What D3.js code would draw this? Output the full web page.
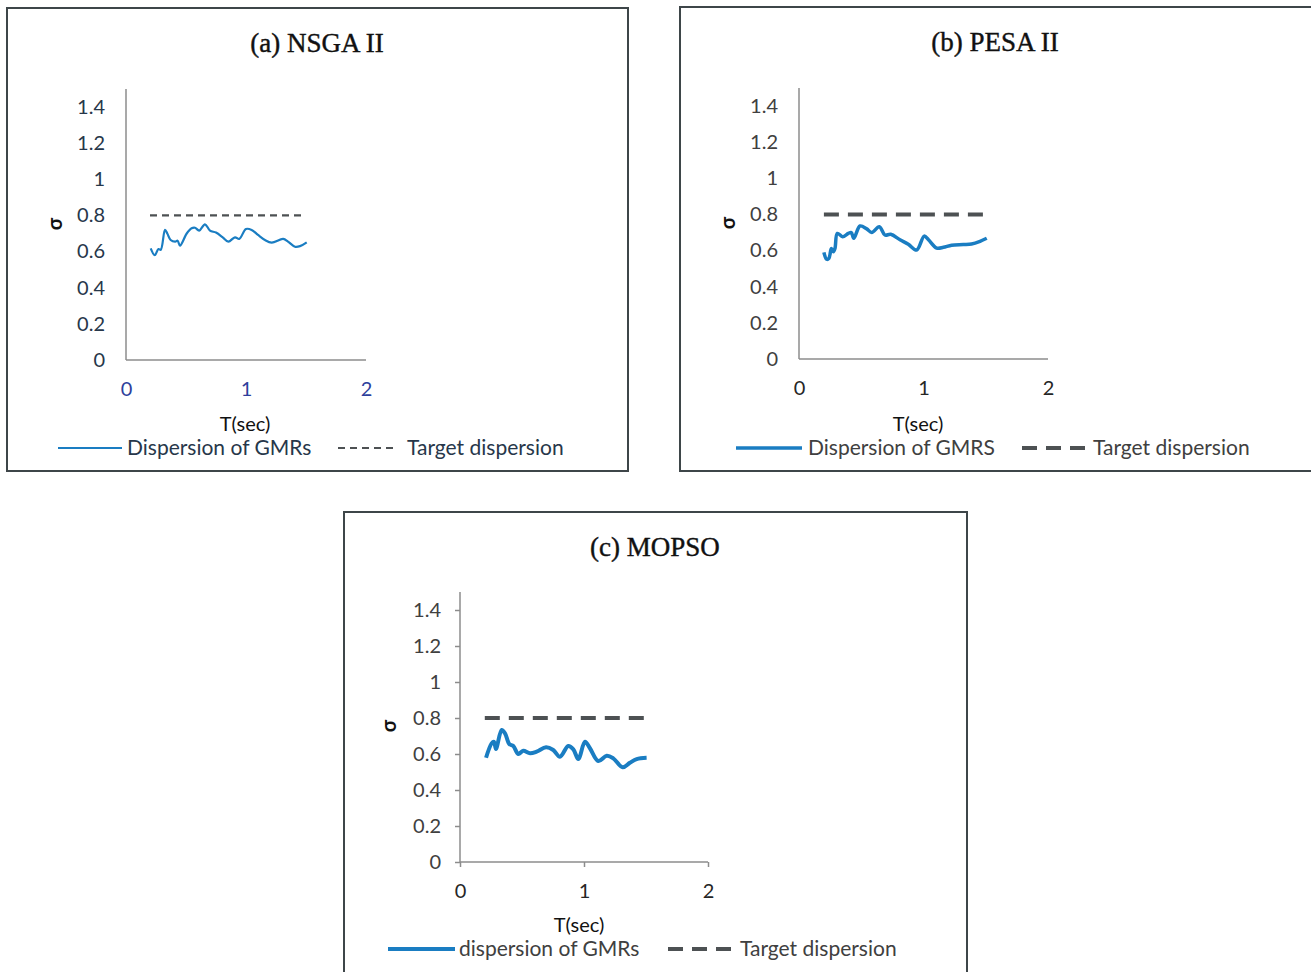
<!DOCTYPE html>
<meta charset="utf-8">
<head>
	<title>Dispersion of GMRs</title>
</head>

<style>
body{
	margin: 0;
	background: #fff;
}
svg{
	display: block;
}
.title{
	font-family: "Liberation Serif", "Times New Roman", serif;
	font-size: 27px;
	fill: #111;
	stroke: #111;
	stroke-width: 0.4px;
}
.tick text, .lbl{
	font-family: Lato, "Open Sans", sans-serif;
}
</style>

<body>
<svg id="chart" width="1311" height="972"></svg>

<script src="https://cdnjs.cloudflare.com/ajax/libs/d3/7.8.5/d3.min.js"></script>
<script>

// tick labels
var yTicks = [0, 0.2, 0.4, 0.6, 0.8, 1, 1.2, 1.4];
var xTicks = [0, 1, 2];

// target dispersion (same for all three)
var target_T = [0.2, 1.5];
var target_sigma = [0.8, 0.8];

// (a) NSGA II
var nsga_T = [0.206, 0.24, 0.27, 0.29, 0.325, 0.344, 0.372, 0.41, 0.43, 0.45, 0.506, 0.547, 0.575, 0.61, 0.658, 0.70, 0.75, 0.806, 0.853, 0.908, 0.944, 1.0, 1.047, 1.10, 1.158, 1.214, 1.31, 1.35, 1.408, 1.45, 1.506];
var nsga_sigma = [0.618, 0.58, 0.614, 0.61, 0.72, 0.70, 0.664, 0.655, 0.66, 0.633, 0.70, 0.729, 0.732, 0.716, 0.751, 0.716, 0.705, 0.679, 0.655, 0.679, 0.67, 0.725, 0.72, 0.692, 0.664, 0.65, 0.67, 0.655, 0.627, 0.63, 0.651];

// (b) PESA II
var pesa_T = [0.2, 0.222, 0.24, 0.26, 0.276, 0.289, 0.308, 0.35, 0.396, 0.42, 0.44, 0.49, 0.544, 0.584, 0.645, 0.69, 0.737, 0.811, 0.878, 0.945, 1.006, 1.04, 1.106, 1.16, 1.226, 1.32, 1.386, 1.454, 1.508];
var pesa_sigma = [0.59, 0.552, 0.557, 0.612, 0.594, 0.612, 0.695, 0.677, 0.695, 0.70, 0.668, 0.736, 0.72, 0.70, 0.732, 0.686, 0.69, 0.66, 0.635, 0.603, 0.68, 0.66, 0.614, 0.618, 0.63, 0.633, 0.636, 0.651, 0.668];

// (c) MOPSO
var mopso_T = [0.21, 0.255, 0.274, 0.29, 0.336, 0.363, 0.398, 0.43, 0.47, 0.51, 0.565, 0.618, 0.694, 0.752, 0.806, 0.873, 0.914, 0.954, 1.008, 1.048, 1.115, 1.183, 1.236, 1.312, 1.37, 1.425, 1.505];
var mopso_sigma = [0.579, 0.659, 0.668, 0.628, 0.733, 0.715, 0.655, 0.644, 0.60, 0.618, 0.604, 0.613, 0.637, 0.622, 0.585, 0.644, 0.626, 0.572, 0.668, 0.632, 0.561, 0.59, 0.576, 0.526, 0.551, 0.572, 0.579];

var panels = [
	{title: "(a) NSGA II", T: nsga_T, s: nsga_sigma, seriesName: "Dispersion of GMRs",
	 box: [7, 8, 621, 463], titleX: 317, ox: 126, oy: 360, w: 240, h: 253, lineW: 2.2, dashW: 2.2, dash: "7,5",
	 ticks: false, yCol: "#27374a", xCol: "#2e3f9c", legCol: "#27374a", tY: 71, legY: 88,
	 leg: [58, 122, 127, 338, 398, 407]},
	{title: "(b) PESA II", T: pesa_T, s: pesa_sigma, seriesName: "Dispersion of GMRS",
	 box: [680, 7, 640, 464], titleX: 995, ox: 799, oy: 359, w: 249, h: 253, lineW: 3.5, dashW: 4, dash: "15,9",
	 ticks: false, yCol: "#404040", xCol: "#262626", legCol: "#404040", tY: 72, legY: 89,
	 leg: [736, 802, 808, 1022, 1085, 1093]},
	{title: "(c) MOPSO", T: mopso_T, s: mopso_sigma, seriesName: "dispersion of GMRs",
	 box: [344, 512, 623, 470], titleX: 655, ox: 460, oy: 862, w: 248, h: 252, lineW: 4, dashW: 4, dash: "15,9",
	 ticks: true, yCol: "#404040", xCol: "#262626", legCol: "#404040", tY: 70, legY: 87,
	 leg: [388, 455, 459, 668, 732, 740]}
];

var svg = d3.select("#chart");

panels.forEach(function(p){
	var g = svg.append("g");

	g.append("rect")
		.attr("x", p.box[0]).attr("y", p.box[1])
		.attr("width", p.box[2]).attr("height", p.box[3])
		.attr("fill", "none")
		.attr("stroke", "#3e4649")
		.attr("stroke-width", 2);

	g.append("text")
		.attr("class", "title")
		.attr("x", p.titleX)
		.attr("y", p.box[1] + 44)
		.attr("text-anchor", "middle")
		.text(p.title);

	var x = d3.scaleLinear().domain([0, 2]).range([p.ox, p.ox + p.w]);
	var y = d3.scaleLinear().domain([0, 1.4]).range([p.oy, p.oy - p.h]);

	var tickLen = p.ticks ? 5 : 0;

	var yAxis = g.append("g")
		.attr("transform", "translate(" + p.ox + ",0)")
		.call(d3.axisLeft(y).tickValues(yTicks).tickSize(tickLen).tickPadding(p.ticks ? 14 : 21)
			.tickFormat(d3.format("~g")));
	yAxis.select(".domain").attr("d", "M0," + (p.oy - p.h - 18) + "V" + p.oy);

	var xAxis = g.append("g")
		.attr("transform", "translate(0," + p.oy + ")")
		.call(d3.axisBottom(x).tickValues(xTicks).tickSize(tickLen).tickPadding(p.ticks ? 17 : 22)
			.tickFormat(d3.format("d")));
	xAxis.select(".domain").attr("d", "M" + p.ox + ",0H" + (p.ox + p.w));

	[yAxis, xAxis].forEach(function(a){
		a.select(".domain").attr("stroke", "#8c8c8c").attr("stroke-width", 1.5);
		a.selectAll(".tick line").attr("stroke", "#8c8c8c").attr("stroke-width", 1.5);
		a.selectAll(".tick text").attr("font-size", 20);
	});
	yAxis.selectAll(".tick text").attr("fill", p.yCol);
	xAxis.selectAll(".tick text").attr("fill", p.xCol);

	// axis titles
	g.append("text")
		.attr("class", "lbl")
		.attr("transform", "translate(" + (p.ox - 64) + "," + (p.oy - 136) + ") rotate(-90)")
		.attr("text-anchor", "middle")
		.attr("font-size", 20)
		.attr("font-weight", "bold")
		.attr("fill", "#111")
		.text("σ");

	g.append("text")
		.attr("class", "lbl")
		.attr("x", p.ox + 119)
		.attr("y", p.oy + p.tY)
		.attr("text-anchor", "middle")
		.attr("font-size", 20)
		.attr("fill", "#111")
		.text("T(sec)");

	// lines
	var line = d3.line()
		.x(function(d){ return x(d[0]); })
		.y(function(d){ return y(d[1]); })
		.curve(d3.curveCatmullRom.alpha(0.5));

	g.append("path")
		.attr("d", d3.line().x(function(d){ return x(d[0]); }).y(function(d){ return y(d[1]); })(d3.zip(target_T, target_sigma)))
		.attr("fill", "none")
		.attr("stroke", "#4d5153")
		.attr("stroke-width", p.dashW)
		.attr("stroke-dasharray", p.dash);

	g.append("path")
		.attr("d", line(d3.zip(p.T, p.s)))
		.attr("fill", "none")
		.attr("stroke", "#1a7dc2")
		.attr("stroke-width", p.lineW)
		.attr("stroke-linejoin", "round");

	// legend
	var ly = p.oy + p.legY;
	g.append("line")
		.attr("x1", p.leg[0]).attr("x2", p.leg[1]).attr("y1", ly).attr("y2", ly)
		.attr("stroke", "#1a7dc2").attr("stroke-width", p.lineW);
	g.append("text")
		.attr("class", "lbl")
		.attr("x", p.leg[2]).attr("y", ly).attr("dy", "0.35em")
		.attr("font-size", 21).attr("fill", p.legCol)
		.text(p.seriesName);
	g.append("line")
		.attr("x1", p.leg[3]).attr("x2", p.leg[4]).attr("y1", ly).attr("y2", ly)
		.attr("stroke", "#4d5153").attr("stroke-width", p.dashW)
		.attr("stroke-dasharray", p.dash);
	g.append("text")
		.attr("class", "lbl")
		.attr("x", p.leg[5]).attr("y", ly).attr("dy", "0.35em")
		.attr("font-size", 21).attr("fill", p.legCol)
		.text("Target dispersion");
});

</script>
</body>
</html>
